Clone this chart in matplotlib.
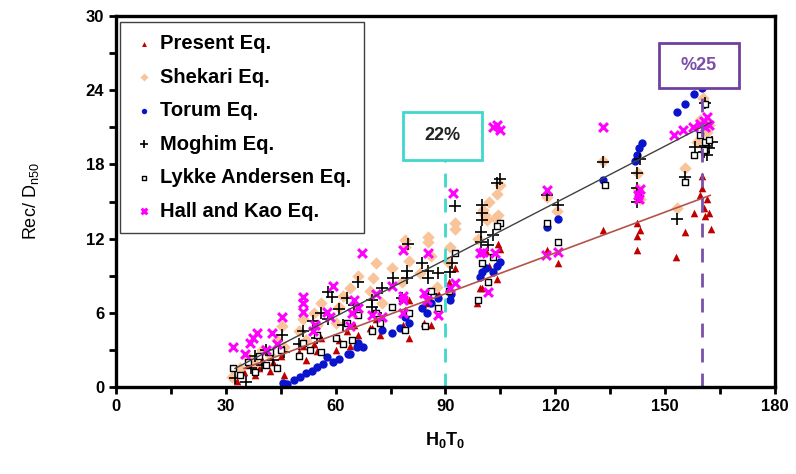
import matplotlib.pyplot as plt
from matplotlib.patches import Rectangle

plt.rcParams['font.family'] = ['Liberation Sans', 'DejaVu Sans']
plt.rcParams['mathtext.fontset'] = 'custom'
plt.rcParams['mathtext.rm'] = 'Liberation Sans'
plt.rcParams['mathtext.bf'] = 'Liberation Sans:bold'

# Present Eq.
present_x = [32, 33, 35, 36, 38, 39, 40, 42, 43, 44, 45, 46,
             50, 51, 52, 54, 55, 56, 60, 61, 63, 64, 65, 66,
             69.4, 70, 71, 72, 78.4, 79, 80, 80, 84, 85, 86, 88,
             91, 92.6, 98.6, 99.4, 100, 101, 102, 104, 104.3, 105,
             117.7, 120.7, 133, 142.3, 142.3, 142.3, 143, 153, 155.4,
             158, 160, 160, 160.5, 161, 161.5, 162, 162.5, 159.5]
present_y = [0.8, 0.5, 1.2, 1.8, 1.0, 1.5, 2.2, 1.3, 2.0, 1.6, 2.5, 1.0,
             2.8, 3.3, 2.2, 3.5, 2.9, 4.0, 3.0, 3.8, 4.5, 3.3, 5.0, 4.2,
             4.8, 4.8, 5.5, 4.2, 5.0, 6.2, 4.0, 7.0, 5.2, 6.8, 5.0, 7.6,
             8.5, 9.6, 6.8, 8.0, 8.0, 11.0, 9.8, 8.7, 11.6, 11.2,
             11.1, 10.0, 12.7, 13.3, 12.2, 11.1, 12.7, 10.5, 12.5,
             14.1, 17.1, 16.1, 14.5, 13.8, 15.2, 14.1, 12.8, 15.5]

# Shekari Eq.
shekari_x = [31.7, 34, 36, 38, 40, 42, 44, 45.3, 46,
             50, 51, 52, 54, 55, 56, 60, 61, 62, 64, 65, 66,
             69.4, 70.2, 72.6, 71, 75.4, 79, 79, 78, 80,
             83, 85.2, 85.2, 87.7, 86, 90.7, 91.2, 92.6, 92.6,
             100.2, 100.8, 101.3, 103.5, 104.3, 104.9, 104, 99, 102,
             117.7, 120.5, 133, 142.6, 142.6, 143, 153.2, 155.4,
             159.5, 158.8, 160.3, 161.5, 162]
shekari_y = [0.8, 1.5, 2.4, 1.9, 3.0, 2.6, 3.8, 4.9, 3.2,
             4.5, 5.5, 3.8, 6.0, 5.0, 6.8, 5.2, 6.5, 7.4, 8.0, 6.0, 9.0,
             7.8, 8.8, 6.8, 10.0, 9.6, 11.3, 11.9, 8.5, 10.2,
             9.2, 11.7, 12.1, 8.1, 10.6, 10.1, 11.3, 12.8, 13.3,
             14.3, 13.9, 13.5, 13.7, 13.9, 16.3, 15.6, 12.0, 15.0,
             15.4, 14.2, 18.3, 17.3, 16.0, 15.2, 14.5, 17.7,
             21.6, 19.8, 23.4, 20.6, 21.2]

# Torum Eq.
torum_x = [45.5, 46.7, 48.5, 50.3, 52, 53.5, 55, 56.5, 57.6, 59.3, 61,
           63.4, 64, 65.8, 67.5, 66, 72.6, 75.4, 77.6, 79, 80,
           83.6, 85, 86, 88, 91.2, 91.6, 99.4, 100, 101, 103, 105, 104,
           117.7, 120.7, 133, 141.8, 142.3, 142.8, 143.7,
           153.2, 155.4, 157.9, 160]
torum_y = [0.3, 0.24, 0.6, 0.8, 1.1, 1.3, 1.6, 1.9, 2.4, 2.0, 2.3,
           2.7, 2.7, 3.2, 3.2, 3.6, 4.6, 4.4, 4.8, 5.7, 5.2,
           6.4, 6.0, 6.8, 7.2, 7.0, 7.5, 8.9, 9.3, 9.6, 9.3, 10.1, 9.8,
           12.9, 13.6, 16.7, 18.3, 18.8, 19.3, 19.7,
           22.2, 22.9, 23.7, 24.2]

# Moghim Eq.
moghim_x = [32.5, 35.5, 37, 38, 40, 41, 43, 45.3, 46,
            50, 51, 53.8, 55, 56, 57.9, 59, 58, 61, 62, 63, 65, 66,
            69.9, 69.9, 72.6, 71, 75.7, 79.5, 79.5, 79.8, 78,
            83.6, 85.2, 85.2, 88, 86, 91.8, 91.2, 92.6,
            100, 100, 100, 99.6, 99.6, 101.6, 103, 104, 105,
            120.7, 117.7, 133, 143.1, 142.3, 142.3, 142.3, 155.4, 153.2,
            158.2, 160.9, 162.8, 160.5, 161, 161.5, 162]
moghim_y = [0.7, 0.4, 1.5, 2.5, 1.8, 3.0, 2.2, 4.2, 2.8,
            3.5, 4.5, 5.3, 4.0, 6.0, 7.7, 7.3, 5.5, 6.3, 5.0, 7.2, 6.6, 8.5,
            7.0, 6.5, 8.0, 6.0, 8.8, 9.4, 8.8, 11.6, 7.2,
            10.0, 9.4, 8.8, 9.2, 7.5, 10.0, 9.3, 14.6,
            14.7, 14.1, 13.5, 12.5, 11.7, 11.5, 12.3, 16.5, 16.8,
            14.7, 15.5, 18.2, 18.4, 17.3, 16.1, 15.0, 17.0, 13.6,
            19.4, 23.0, 19.8, 19.0, 19.5, 18.8, 19.3]

# Lykke Andersen Eq.
lykke_x = [32, 34, 36, 38, 39, 41, 42, 44, 45,
           50, 51, 53, 55, 56, 60, 62, 63, 64.5, 66,
           70, 71, 72, 75.4, 79, 78, 80, 84.4, 86, 88, 92.6, 91,
           98.9, 100, 101.6, 104.9, 104, 103,
           117.7, 120.7, 133.6, 142.5, 155.4,
           158, 159.5, 160.9, 160.5, 161, 162]
lykke_y = [1.5, 1.0, 2.0, 1.2, 2.5, 1.8, 2.8, 1.5, 3.0,
           2.5, 3.6, 3.0, 4.2, 2.8, 4.0, 3.5, 5.2, 3.8, 5.8,
           4.5, 6.0, 5.2, 6.5, 4.6, 7.2, 6.0, 4.9, 7.8, 6.4, 10.8, 7.8,
           7.0, 10.0, 8.5, 13.3, 13.0, 10.5,
           13.3, 11.7, 16.3, 15.5, 16.6,
           18.8, 20.4, 22.9, 19.2, 19.8, 20.0]

# Hall and Kao Eq.
hall_x = [32, 35.2, 36.6, 37.5, 38.5, 41, 42.6, 45.3, 44,
          51, 51, 51, 53.8, 54.4, 57.6, 58.5, 59.3,
          63.9, 64.5, 65, 66, 67.2, 70, 72.6, 71,
          75.4, 78.4, 78.4, 78.4, 78.4, 84, 85, 85.2, 88,
          91.2, 92.6, 92, 99.4, 100.2, 103.5, 101.6, 103, 104, 105,
          117.5, 120.7, 117.7, 133, 142.5, 143, 142.8,
          152.5, 155, 157.5, 159.5, 160.5, 161, 161.5, 162]
hall_y = [3.2, 2.7, 3.6, 4.0, 4.4, 3.0, 4.4, 5.7, 3.5,
          7.3, 6.8, 6.1, 4.5, 5.0, 6.1, 5.7, 8.2,
          4.9, 6.0, 7.0, 6.4, 10.8, 5.8, 5.7, 7.5,
          8.2, 7.4, 7.0, 6.0, 11.1, 7.6, 7.0, 10.8, 5.8,
          8.0, 8.4, 15.7, 10.8, 10.9, 10.8, 7.7, 21.0, 21.2, 20.8,
          10.7, 10.9, 15.9, 21.0, 15.5, 16.0, 15.2,
          20.4, 20.8, 21.0, 21.3, 21.5, 21.0, 21.8, 21.2]

# trend lines (end points)
moghim_fit_x = [32.5, 162.5]
moghim_fit_y = [1.5, 21.4]
present_fit_x = [35.0, 162.3]
present_fit_y = [1.5, 15.5]

fig = plt.figure(figsize=(7.96, 4.74), dpi=100)
ax = fig.add_axes([0.1457, 0.1835, 0.8279, 0.7827])

ax.scatter(present_x, present_y, marker='^', s=30, color='#C00000', lw=0, label='Present Eq.')
ax.scatter(shekari_x, shekari_y, marker='D', s=40, color='#FAC49A', lw=0, label='Shekari Eq.')
ax.scatter(torum_x, torum_y, marker='o', s=36, color='#0A14CC', lw=0, label='Torum Eq.')
ax.scatter(moghim_x, moghim_y, marker='+', s=70, color='black', lw=1.2, label='Moghim Eq.')
ax.scatter(lykke_x, lykke_y, marker='s', s=16, facecolor='white', edgecolor='black', lw=1.0,
           label='Lykke Andersen Eq.')
ax.scatter(hall_x, hall_y, marker='x', s=40, color='#FF00FF', lw=2.2, label='Hall and Kao Eq.')

ax.plot(moghim_fit_x, moghim_fit_y, color='#404040', lw=1.0)
ax.plot(present_fit_x, present_fit_y, color='#B5524A', lw=1.2)

# dashed markers and boxes
ax.plot([90, 90], [0, 18.35], color='#40D8CC', lw=2, ls=(0, (5, 4)))
ax.plot([160, 160], [0, 24.2], color='#7A50A8', lw=2, ls=(0, (5, 4)))
ax.add_patch(Rectangle((78.4, 18.35), 21.6, 3.85, facecolor='white', edgecolor='#40D8CC', lw=2, zorder=5))
ax.add_patch(Rectangle((148.3, 24.2), 21.9, 3.6, facecolor='white', edgecolor='#7040A0', lw=2, zorder=5))
ax.text(89.2, 20.3, '22%', ha='center', va='center', fontsize=13, fontweight='bold', color='#222222', zorder=6)
ax.text(159.2, 26.0, '%25', ha='center', va='center', fontsize=13, fontweight='bold', color='#7A50A8', zorder=6)

ax.set_xlim(0, 180)
ax.set_ylim(0, 30)
ax.set_xticks(range(0, 181, 30))
ax.set_xticks(range(15, 180, 30), minor=True)
ax.set_yticks(range(0, 31, 6))
ax.set_yticks(range(3, 30, 6), minor=True)
ax.tick_params(which='both', direction='out', length=5, width=2, labelsize=12)
for lab in ax.get_xticklabels() + ax.get_yticklabels():
    lab.set_fontweight('bold')
for sp in ax.spines.values():
    sp.set_linewidth(2.4)

ax.set_xlabel(r'$\mathbf{H_0T_0}$', fontsize=13, labelpad=12)
ax.set_ylabel(r'Rec/ D$_{\mathrm{n50}}$', fontsize=13, labelpad=32)

leg = ax.legend(loc='upper left', bbox_to_anchor=(0.006, 0.984), borderaxespad=0, fancybox=False,
                edgecolor='#404040', framealpha=1, handletextpad=0.2, labelspacing=0.72,
                borderpad=0.6, handlelength=1.2, markerscale=0.65,
                prop={'weight': 'bold', 'size': 14.5})
leg.get_frame().set_linewidth(1.0)

plt.savefig('out.png', dpi=100)
